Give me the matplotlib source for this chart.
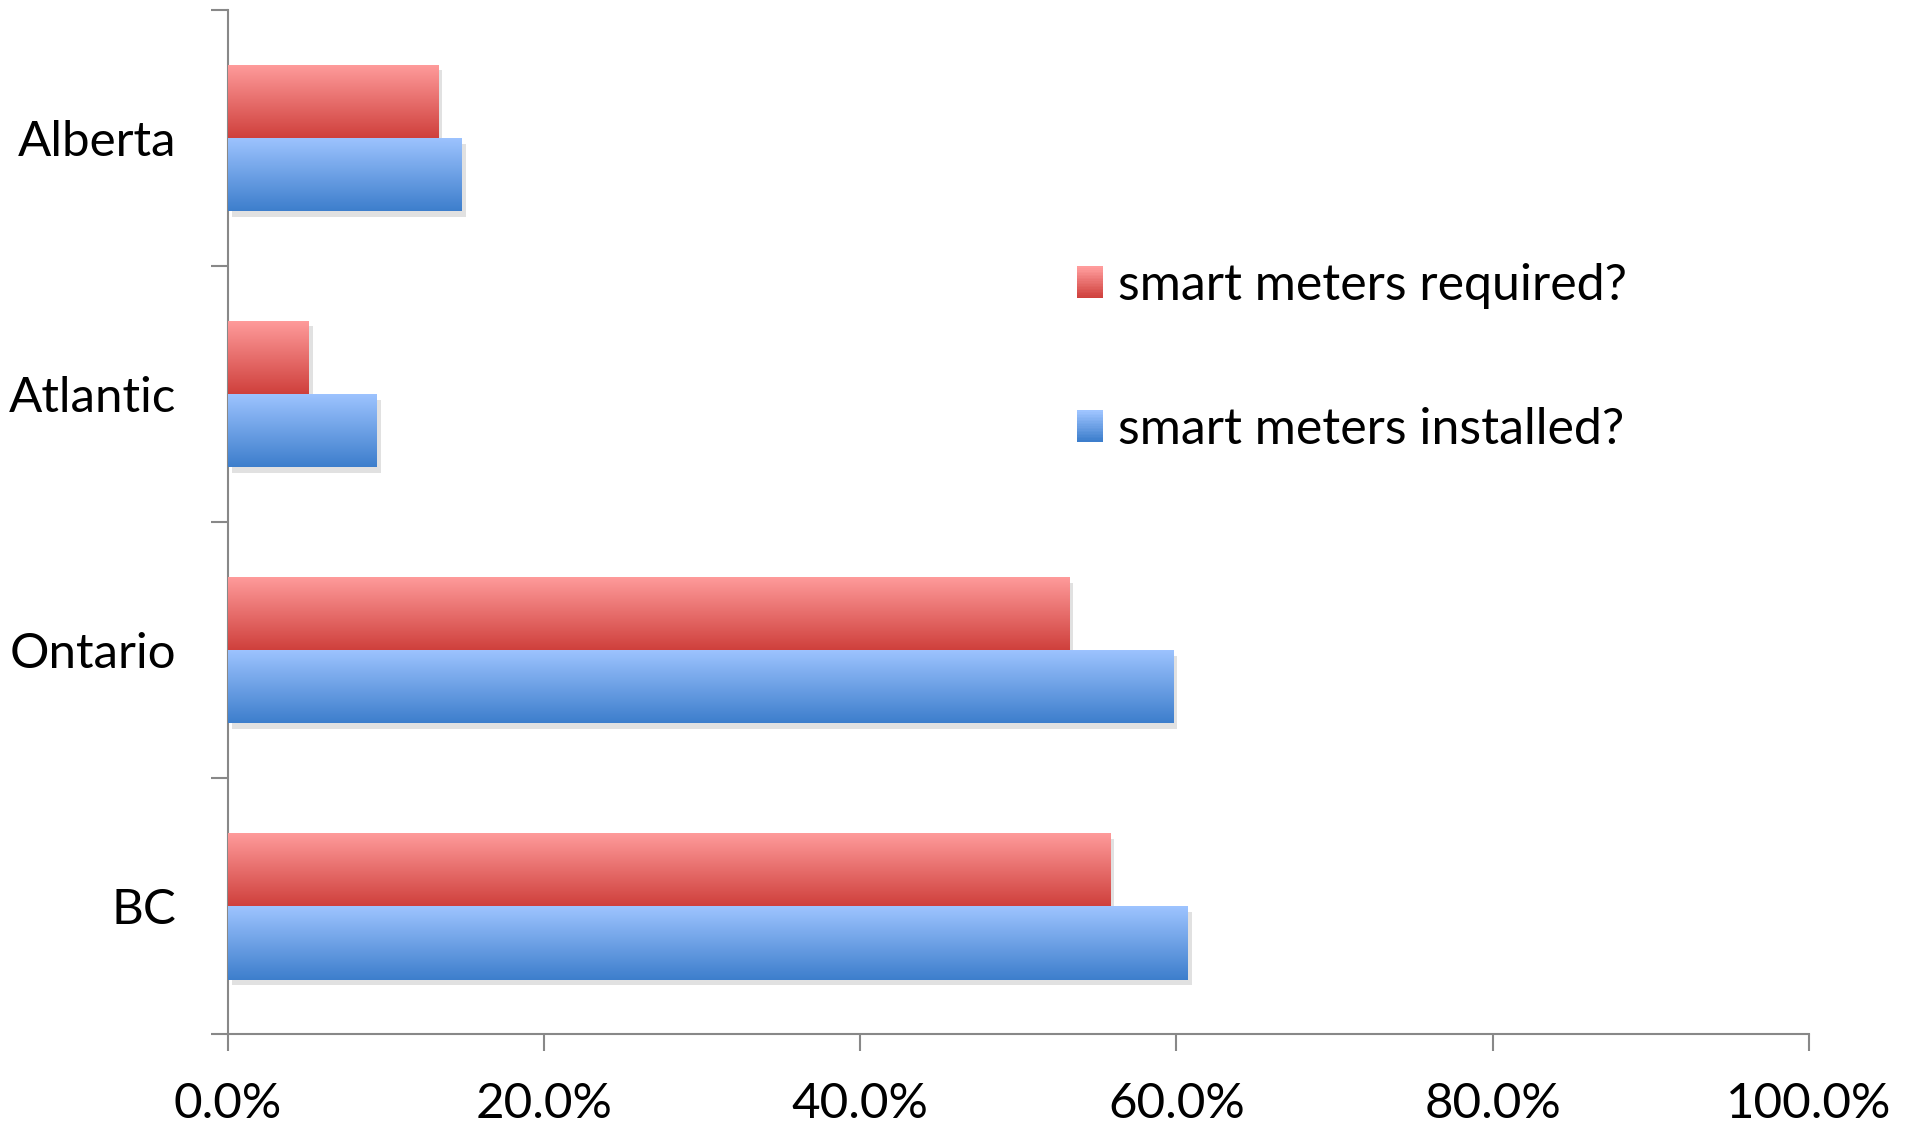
import numpy as np
import matplotlib
matplotlib.use("Agg")
import matplotlib.pyplot as plt
from matplotlib.patches import Rectangle
from matplotlib.legend_handler import HandlerBase
import matplotlib.patheffects as pe
from matplotlib.colors import LinearSegmentedColormap

plt.rcParams['font.family'] = ['Lato', 'DejaVu Sans']

# data (bottom to top)
regions = ['BC', 'Ontario', 'Atlantic', 'Alberta']
required = [55.8, 53.2, 5.1, 13.3]
installed = [60.7, 59.8, 9.4, 14.8]
ticks = [0, 20, 40, 60, 80, 100]
tick_labels = ['0.0%', '20.0%', '40.0%', '60.0%', '80.0%', '100.0%']

red_top, red_bot = '#ff9c9c', '#cf403c'
blue_top, blue_bot = '#9ec4ff', '#3d7ecc'
red_cmap = LinearSegmentedColormap.from_list('r', [red_bot, red_top])
blue_cmap = LinearSegmentedColormap.from_list('b', [blue_bot, blue_top])
grad = np.linspace(0, 1, 256).reshape(-1, 1)

fig = plt.figure(figsize=(19.14, 11.25), dpi=100)
ax = fig.add_axes([0.119, 0.0806, 0.826, 0.9105])

h = 0.286
y = np.arange(len(regions))
shadow = [pe.SimplePatchShadow(offset=(3, -4), shadow_rgbFace='#aaaaaa', alpha=0.35), pe.Normal()]


def gradient_bars(bars, cmap):
    for b in bars:
        x0, y0 = b.get_x(), b.get_y()
        w, hh = b.get_width(), b.get_height()
        im = ax.imshow(grad, cmap=cmap, aspect='auto', origin='lower',
                       extent=(x0, x0 + w, y0, y0 + hh), zorder=3)
        im.set_clip_path(b)


bars_r = ax.barh(y + h / 2, required, height=h, color=red_bot, zorder=2,
                 path_effects=shadow, linewidth=0)
bars_b = ax.barh(y - h / 2, installed, height=h, color=blue_bot, zorder=2,
                 path_effects=shadow, linewidth=0)
gradient_bars(bars_r, red_cmap)
gradient_bars(bars_b, blue_cmap)

ax.set_xlim(0, 100)
ax.set_ylim(-0.5, 3.5)
ax.set_xticks(ticks)
ax.set_xticklabels(tick_labels)
ax.set_yticks(y)
ax.set_yticklabels(regions)
ax.set_yticks(np.arange(-0.5, 4, 1), minor=True)
ax.tick_params(axis='y', which='major', length=0, pad=37, labelsize=35.5)
ax.tick_params(axis='y', which='minor', length=12, width=1.5, color='#888888')
ax.tick_params(axis='x', length=12, width=1.5, color='#888888', labelsize=35.5, pad=22)

for s in ['top', 'right']:
    ax.spines[s].set_visible(False)
for s in ['left', 'bottom']:
    ax.spines[s].set_color('#888888')
    ax.spines[s].set_linewidth(1.5)


class GradientHandler(HandlerBase):
    def __init__(self, top, bot):
        super().__init__()
        self.top, self.bot = top, bot

    def create_artists(self, legend, orig_handle, xdescent, ydescent, width, height, fontsize, trans):
        cmap = LinearSegmentedColormap.from_list('g', [self.bot, self.top])
        n = 20
        sw = width
        sh = width * 1.2
        x0 = -xdescent
        y0 = -ydescent + (height - sh) / 2
        arts = []
        for i in range(n):
            r = Rectangle((x0, y0 + sh * i / n), sw, sh / n + 0.3,
                          facecolor=cmap(i / (n - 1)), edgecolor='none', transform=trans)
            arts.append(r)
        return arts


hr = Rectangle((0, 0), 1, 1)
hb = Rectangle((0, 0), 1, 1)
fig.legend([hr, hb], ['smart meters required?', 'smart meters installed?'],
           handler_map={hr: GradientHandler(red_top, red_bot), hb: GradientHandler(blue_top, blue_bot)},
           loc='upper left', bbox_to_anchor=(1077 / 1914, 1 - 263 / 1125),
           frameon=False, fontsize=36, labelspacing=1.95, handlelength=0.52,
           handletextpad=0.3, borderpad=0, borderaxespad=0)

fig.savefig('out.png', dpi=100)
